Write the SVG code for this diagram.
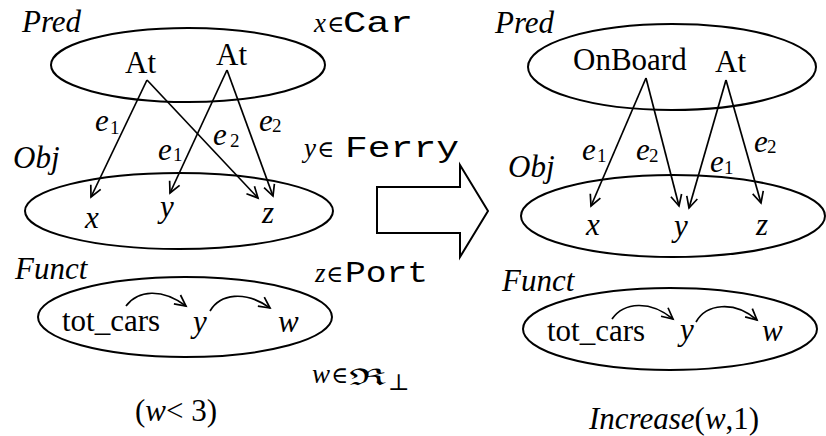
<svg xmlns="http://www.w3.org/2000/svg" width="826" height="436" viewBox="0 0 826 436" font-family="Liberation Serif, Times New Roman, serif">
  <style>
    .ell { fill: none; stroke: #000; stroke-width: 2; }
    .edge { fill: none; stroke: #000; stroke-width: 1.7; marker-end: url(#vhead); }
    .t { font-size: 31px; fill: #000; }
    .i { font-style: italic; }
    .sub { font-size: 19px; fill: #000; }
    .var { font-size: 27px; font-style: italic; fill: #000; }
    .mono { font-family: "Liberation Mono", "Courier New", monospace; font-size: 29px; fill: #000; }
    .sym { font-family: "DejaVu Serif", serif; font-size: 23px; fill: #000; }
  </style>
  <defs>
    <marker id="vhead" viewBox="0 0 12 12" refX="11" refY="6" markerWidth="12" markerHeight="12" markerUnits="userSpaceOnUse" orient="auto" overflow="visible">
      <path d="M0,0.5 L11,6 L0,11.5" fill="none" stroke="#000" stroke-width="1.7"/>
    </marker>
  </defs>
  <rect width="826" height="436" fill="#fff"/>

  <!-- left state -->
  <g id="left-pred">
    <ellipse class="ell" cx="188" cy="65" rx="137" ry="37"/>
    <text class="t i" x="22" y="32">Pred</text>
    <text class="t" x="125" y="73">At</text>
    <text class="t" x="216" y="65">At</text>
  </g>
  <g id="left-obj">
    <ellipse class="ell" cx="179" cy="211" rx="154" ry="38"/>
    <text class="t i" x="13" y="168">Obj</text>
    <text class="t i" x="85" y="228">x</text>
    <text class="t i" x="160" y="217">y</text>
    <text class="t i" x="262" y="223">z</text>
  </g>
  <g id="left-funct">
    <ellipse class="ell" cx="185" cy="317" rx="147" ry="40"/>
    <text class="t i" x="15" y="279">Funct</text>
    <text class="t" x="62" y="331">tot_cars</text>
    <text class="t i" x="193" y="332">y</text>
    <text class="t i" x="278" y="332">w</text>
  </g>
  <g id="left-types">
    <text class="var" x="314" y="32">x</text>
    <text class="sym" x="327" y="32">∈</text>
    <text class="mono" x="343" y="32" textLength="70" lengthAdjust="spacingAndGlyphs">Car</text>
    <text class="var" x="304" y="157">y</text>
    <text class="sym" x="317" y="157">∈</text>
    <text class="mono" x="345" y="157" textLength="114" lengthAdjust="spacingAndGlyphs">Ferry</text>
    <text class="var" x="315" y="282">z</text>
    <text class="sym" x="326" y="282">∈</text>
    <text class="mono" x="345" y="282" textLength="83" lengthAdjust="spacingAndGlyphs">Port</text>
    <text class="var" x="312" y="383">w</text>
    <text class="sym" x="331" y="383">∈</text>
    <text class="sym" x="349" y="385" font-size="30" textLength="38" lengthAdjust="spacingAndGlyphs">ℜ</text>
    <text class="sym" x="388" y="390" font-size="12">⊥</text>
  </g>
  <g id="left-condition">
    <text class="t" x="135" y="421">(<tspan class="i">w</tspan>&lt; 3)</text>
  </g>

  <!-- transition arrow -->
  <g id="transition">
    <polygon points="377,187 460,187 460,165 488,211 460,257 460,233 377,233" fill="#fff" stroke="#000" stroke-width="2"/>
  </g>

  <!-- right state -->
  <g id="right-pred">
    <ellipse class="ell" cx="672" cy="67" rx="144" ry="43"/>
    <text class="t i" x="495" y="33">Pred</text>
    <text class="t" x="573" y="70">OnBoard</text>
    <text class="t" x="715" y="72">At</text>
  </g>
  <g id="right-obj">
    <ellipse class="ell" cx="673" cy="216" rx="152" ry="41"/>
    <text class="t i" x="508" y="177">Obj</text>
    <text class="t i" x="586" y="235">x</text>
    <text class="t i" x="674" y="236">y</text>
    <text class="t i" x="756" y="235">z</text>
  </g>
  <g id="right-funct">
    <ellipse class="ell" cx="670" cy="329" rx="147" ry="41"/>
    <text class="t i" x="502" y="291">Funct</text>
    <text class="t" x="547" y="341">tot_cars</text>
    <text class="t i" x="680" y="340">y</text>
    <text class="t i" x="762" y="341">w</text>
  </g>
  <g id="right-effect">
    <text class="t" x="589" y="429"><tspan class="i">Increase</tspan>(<tspan class="i">w</tspan>,1)</text>
  </g>

  <!-- connectors -->
  <g id="connectors">
    <path class="edge" d="M147,80 L91,197"/>
    <path class="edge" d="M147,80 L258,198"/>
    <path class="edge" d="M227,70 L170,193"/>
    <path class="edge" d="M227,70 L273,196"/>
    <path class="edge" d="M126,306 C138,290 162,288 186,306"/>
    <path class="edge" d="M210,311 C220,294 245,290 270,308"/>

    <path class="edge" d="M646,78 L591,206"/>
    <path class="edge" d="M646,78 L679,206"/>
    <path class="edge" d="M726,80 L689,208"/>
    <path class="edge" d="M726,80 L761,203"/>
    <path class="edge" d="M612,319 C624,302 650,300 673,319"/>
    <path class="edge" d="M696,322 C706,304 734,300 757,320"/>
  </g>

  <!-- edge labels -->
  <g id="edge-labels">
    <text class="t i" x="95" y="131">e</text><text class="sub" x="110" y="134">1</text>
    <text class="t i" x="213" y="145">e</text><text class="sub" x="230" y="147">2</text>
    <text class="t i" x="158" y="160">e</text><text class="sub" x="173" y="161">1</text>
    <text class="t i" x="259" y="131">e</text><text class="sub" x="272" y="132">2</text>

    <text class="t i" x="582" y="160">e</text><text class="sub" x="597" y="162">1</text>
    <text class="t i" x="636" y="160">e</text><text class="sub" x="649" y="162">2</text>
    <text class="t i" x="710" y="172">e</text><text class="sub" x="724" y="174">1</text>
    <text class="t i" x="754" y="152">e</text><text class="sub" x="767" y="153">2</text>
  </g>
</svg>
